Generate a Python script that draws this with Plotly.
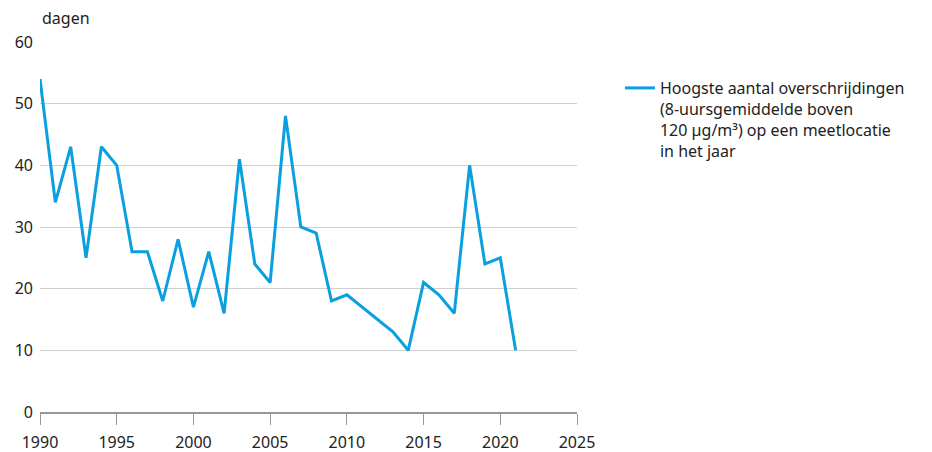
import plotly.graph_objects as go

years = list(range(1990, 2022))
days = [54, 34, 43, 25, 43, 40, 26, 26, 18, 28, 17, 26, 16, 41, 24, 21,
        48, 30, 29, 18, 19, 17, 15, 13, 10, 21, 19, 16, 40, 24, 25, 10]
series_name = ("Hoogste aantal overschrijdingen<br>(8-uursgemiddelde boven<br>"
               "120 µg/m³) op een meetlocatie<br>in het jaar")
x_ticks = [1990, 1995, 2000, 2005, 2010, 2015, 2020, 2025]
y_ticks = [0, 10, 20, 30, 40, 50, 60]
y_label = "dagen"

FONT = "Noto Sans"
TXT = "#222222"

fig = go.Figure()
fig.add_trace(go.Scatter(
    x=years, y=days, mode="lines", name=series_name,
    line=dict(color="#0AA0E0", width=3),
))

fig.update_layout(
    width=916, height=444,
    margin=dict(l=32, r=347, t=34, b=40, autoexpand=False),
    paper_bgcolor="white", plot_bgcolor="white",
    font=dict(family=FONT, size=16, color=TXT),
    showlegend=True,
    legend=dict(x=1.080, y=0.9216, xanchor="left", yanchor="top",
                valign="top",
                font=dict(family=FONT, size=16, color=TXT),
                itemwidth=30, bgcolor="rgba(0,0,0,0)"),
    xaxis=dict(range=[1990, 2025], tickvals=x_ticks, showgrid=False,
               showline=True, linecolor="#999999", linewidth=2,
               ticks="outside", ticklen=11, tickcolor="#999999", tickwidth=1,
               ticklabelstandoff=4,
               zeroline=False, automargin=False, tickfont=dict(size=16)),
    yaxis=dict(range=[0, 60], tickvals=y_ticks, showgrid=True,
               gridcolor="#d0d0d0", gridwidth=1, zeroline=False,
               showline=False, ticks="", automargin=False,
               ticklabelstandoff=6,
               tickfont=dict(size=16)),
    annotations=[dict(text=y_label, x=0, y=1.064, xref="paper", yref="paper",
                      xanchor="left", yanchor="middle", showarrow=False,
                      font=dict(family=FONT, size=16, color=TXT))],
)

fig.write_html("out.html")
